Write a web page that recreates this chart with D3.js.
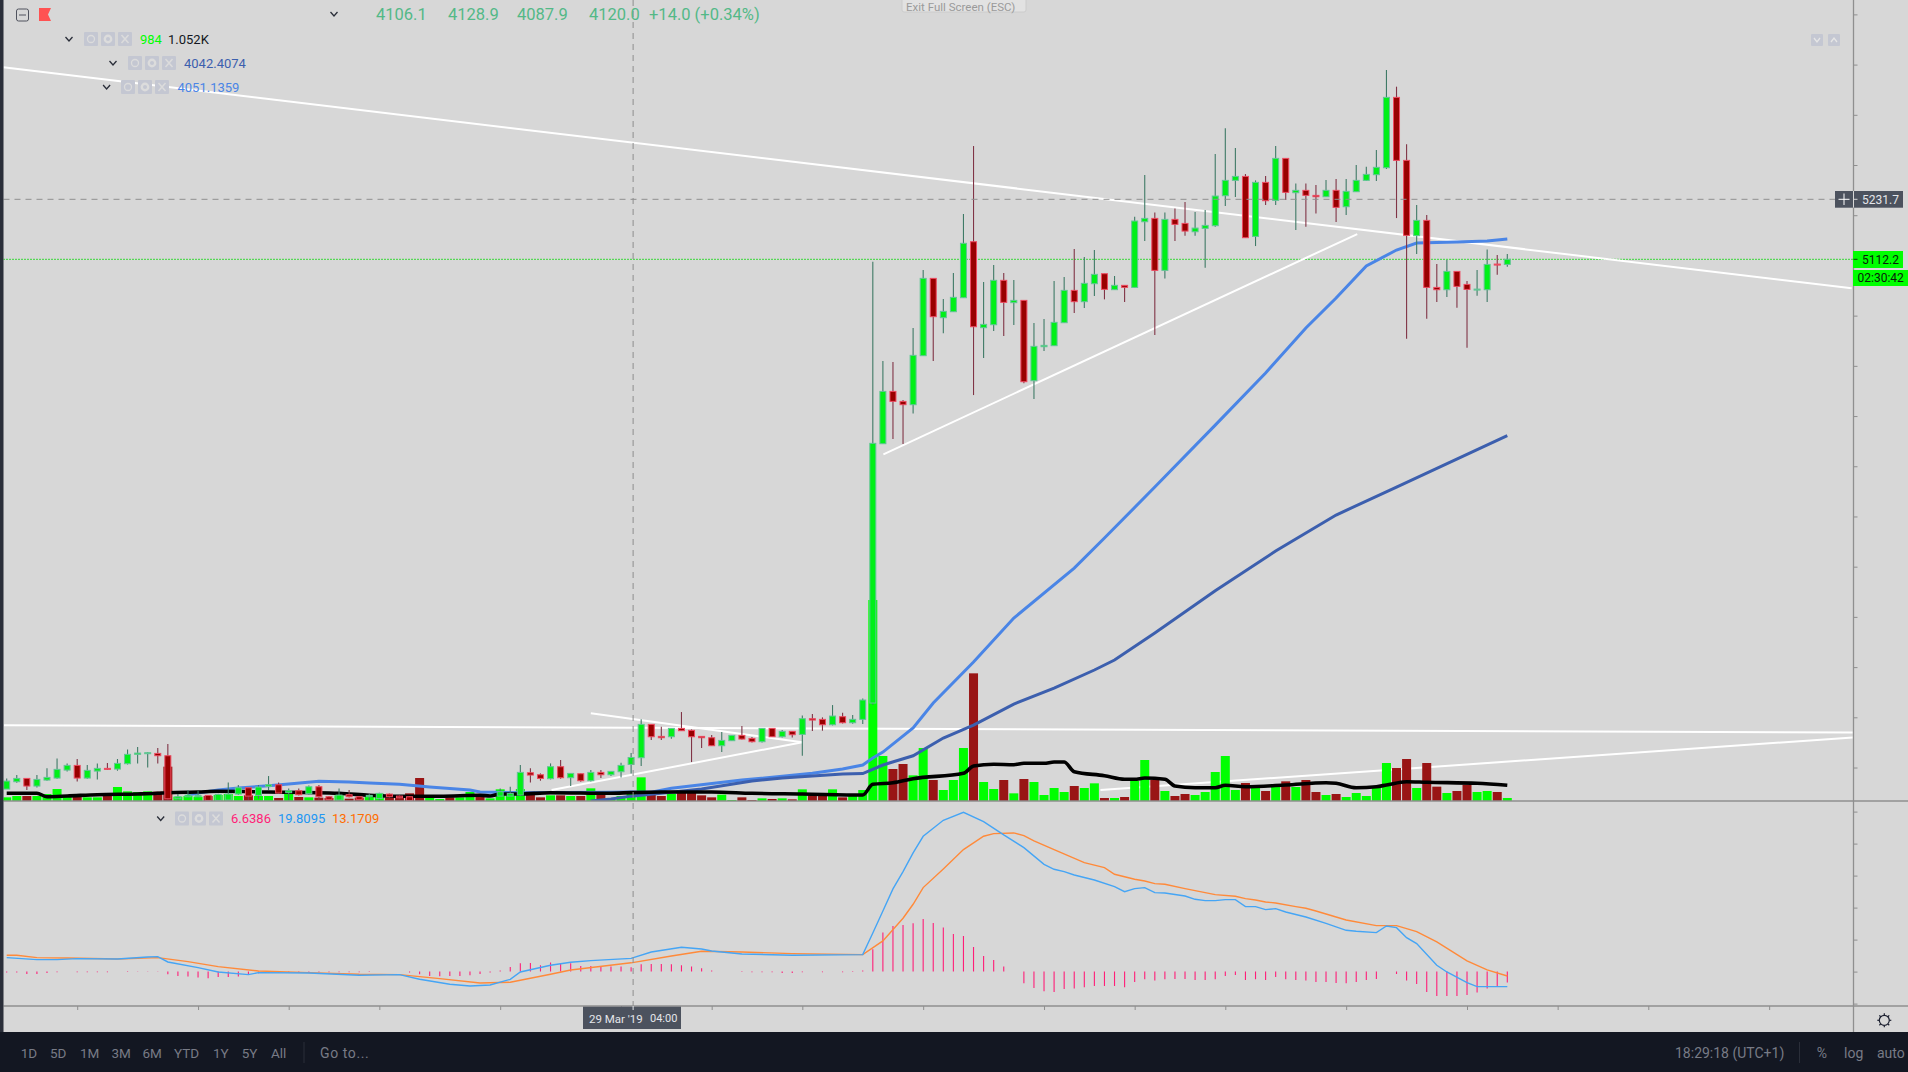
<!DOCTYPE html>
<html>
<head>
<meta charset="utf-8">
<script src="https://cdn.jsdelivr.net/npm/d3@7"></script>
<style>
  html, body { margin: 0; padding: 0; background: #d7d7d7; overflow: hidden; }
  svg { display: block; font-family: Roboto, sans-serif; }
</style>
</head>
<body>
<div id="app"></div>
<script>
// candles, one entry per bar
const opens = [
  4057.1,4071.7,4078.3,4063.1,4075.0,4079.0,4094.9,4104.2,4079.0,4092.9,
  4098.3,4096.9,4107.6,4126.2,4127.5,4128.1,4123.5,4037.8,4041.8,4041.8,
  4044.5,4034.5,4035.2,4047.1,4059.7,4044.5,4062.4,4065.7,4049.8,4053.8,
  4047.8,4061.7,4041.8,4035.2,4045.8,4041.8,4041.8,4038.5,4047.1,4043.1,
  4041.8,4031,4015,4020,4023,4019,4024,4029,4027,4043.1,
  4043.1,4045.1,4089.6,4085.6,4077.7,4101.6,4079.7,4087.6,4073.7,4090.3,
  4085.6,4091.6,4106.1,4119.5,4185.9,4162.0,4161.3,4177.9,4174.0,4162.0,
  4159.3,4143.4,4153.4,4164.0,4158.0,4151.4,4177.9,4161.3,4172.0,4166.0,
  4197.2,4195.9,4185.2,4201.2,4189.2,4195.9,4228.4,4744.9,4849.1,4829.2,
  4822.6,4920.2,5074.2,4995.9,5007.8,5035.7,5147.2,4976.0,4981.9,5070.3,
  5025.8,5030.4,4870.4,4938.1,4940.1,4985.9,5050.3,5027.8,5063.6,5083.5,
  5051.7,5060.3,5056.2,5187.0,5193.7,5090.1,5191.7,5183.7,5167.1,5173.8,
  5179.1,5238.8,5269.4,5277.3,5157.8,5265.4,5229.5,5313.2,5244.8,5249.5,
  5239.5,5236.8,5249.5,5216.9,5246.8,5269.4,5280.7,5294.6,5434.7,5309.2,
  5159.2,5189.7,5056.2,5051.6,5088.1,5062.2,5050.9,5051.6,5102.7,5102.0
];
const highs = [
  4078.3,4085.0,4078.3,4085.0,4098.3,4118.2,4108.2,4116.8,4104.9,4108.2,
  4108.9,4116.8,4136.1,4140.8,4130.8,4138.8,4146.7,4047.1,4055.1,4053.8,
  4044.5,4047.8,4070.4,4065.1,4059.7,4065.1,4083.0,4070.4,4058.4,4058.4,
  4064.4,4065.1,4043.1,4058.4,4055.1,4043.1,4047.1,4049.8,4048.5,4044.5,
  4043.1,4032,4022,4026,4028,4027,4031,4032,4032,4058.4,
  4061.7,4104.9,4098.3,4088.3,4108.2,4114.9,4088.3,4088.3,4094.9,4094.9,
  4092.3,4109.5,4128.9,4195.9,4185.9,4181.3,4177.9,4210.5,4175.9,4162.0,
  4164.7,4170.6,4164.0,4182.6,4160.7,4177.9,4177.9,4174.6,4172.0,4203.8,
  4206.5,4199.9,4224.4,4209.2,4204.5,4237.7,5107.4,4909.6,4907.6,4831.9,
  4975.3,5090.8,5074.2,5033.1,5084.9,5202.4,5337.8,5066.9,5100.8,5084.9,
  5070.9,5030.4,4985.3,4993.2,5068.9,5076.9,5132.7,5116.7,5130.7,5083.5,
  5078.9,5060.3,5197.0,5280.0,5205.6,5205.6,5213.6,5226.2,5206.3,5210.3,
  5321.8,5373.0,5333.8,5282.0,5269.4,5278.0,5337.8,5313.2,5263.4,5263.4,
  5260.1,5270.0,5272.0,5272.0,5299.9,5296.6,5329.8,5489.2,5456.0,5341.1,
  5220.2,5200.3,5102.7,5110.7,5088.1,5068.8,5090.8,5131.9,5120.6,5122.6
];
const lows = [
  4057.1,4069.7,4055.1,4060.4,4073.7,4077.7,4092.3,4072.4,4077.7,4076.3,
  4094.9,4093.6,4106.2,4108.2,4100.2,4108.2,4035.2,4033.9,4040.5,4040.5,
  4033.9,4033.2,4033.9,4045.1,4035.2,4037.8,4055.1,4048.5,4033.9,4044.5,
  4045.8,4035.2,4035.2,4033.2,4040.5,4035.2,4033.9,4033.9,4040.5,4037.8,
  4032.5,4012,4010,4016,4017,4015,4020,4024,4023,4041.8,
  4041.8,4044.5,4070.4,4073.7,4076.3,4077.7,4063.1,4071.7,4072.4,4079.0,
  4083.0,4080.3,4087.9,4102.9,4154.7,4154.7,4157.4,4173.3,4110.9,4138.8,
  4142.7,4130.8,4153.4,4156.0,4150.0,4150.0,4161.3,4160.0,4160.0,4123.5,
  4172.6,4173.3,4183.9,4187.9,4187.2,4186.6,4225.0,4744.9,4754.2,4744.2,
  4805.3,4920.2,4909.6,4964.7,5007.8,5035.7,4841.8,4915.5,4969.3,4959.4,
  4981.3,4865.1,4833.9,4929.5,4940.1,4985.9,5005.2,5015.1,5039.0,5032.4,
  5051.7,5027.1,5056.2,5148.5,4961.3,5074.2,5148.5,5159.2,5159.2,5095.4,
  5177.1,5218.2,5236.2,5155.2,5138.6,5220.2,5220.2,5230.2,5170.4,5177.1,
  5203.6,5236.8,5186.4,5200.3,5246.8,5268.0,5268.0,5292.0,5194.3,4954.0,
  5122.6,4993.8,5027.0,5037.0,5015.7,4936.0,5039.6,5027.0,5081.5,5097.4
];
const closes = [
  4073.0,4078.3,4063.1,4076.3,4080.3,4096.3,4104.2,4079.0,4094.3,4098.3,
  4096.3,4108.2,4126.2,4128.8,4129.5,4123.5,4037.8,4041.8,4045.1,4044.5,
  4034.5,4046.5,4047.1,4059.7,4043.1,4061.1,4065.7,4049.1,4053.8,4045.8,
  4061.7,4041.8,4036.5,4045.1,4041.8,4036.5,4044.5,4048.5,4041.8,4039.8,
  4033.9,4015,4020,4023,4019,4024,4029,4027,4031,4051.8,
  4048.5,4090.3,4085.0,4078.3,4101.6,4079.7,4088.3,4073.7,4090.3,4085.6,
  4092.3,4104.2,4120.0,4185.9,4161.3,4159.3,4177.9,4173.3,4161.3,4159.3,
  4143.4,4154.0,4164.0,4156.7,4151.4,4177.9,4161.3,4172.0,4165.3,4197.2,
  4194.5,4185.2,4202.5,4189.2,4195.9,4234.4,4745.6,4849.1,4829.2,4822.6,
  4920.9,5074.2,4997.9,5008.5,5036.4,5144.0,4977.9,4982.6,5070.3,5026.4,
  5030.4,4868.4,4938.8,4940.8,4986.6,5050.3,5027.8,5064.3,5082.2,5052.3,
  5060.3,5056.3,5188.4,5193.7,5090.1,5191.7,5181.7,5168.4,5174.4,5179.7,
  5238.2,5269.4,5277.3,5155.2,5265.4,5228.9,5313.2,5245.5,5249.5,5239.5,
  5236.8,5249.5,5215.6,5247.5,5269.4,5281.3,5295.3,5434.7,5309.2,5159.8,
  5189.7,5056.2,5051.6,5088.1,5058.2,5052.2,5052.9,5102.0,5100.7,5112.2
];
const volumes = [
  458,625,625,625,875,1500,750,542,458,458,
  958,1750,1208,1125,1208,1167,4292,542,625,542,
  625,750,875,625,708,625,625,375,875,500,
  458,417,375,708,292,417,500,917,458,458,
  958,2875,458,250,458,458,1125,542,333,1458,
  958,1500,1208,458,708,708,625,625,1583,875,
  208,625,984,2958,750,625,875,1375,1458,708,
  458,792,125,458,125,333,250,333,208,1458,
  708,708,1458,458,750,1375,25125,5625,4000,4625,
  3208,6625,2625,1375,2625,6625,15958,2375,1500,2625,
  958,2750,2375,750,1625,1125,1875,1625,2208,375,
  375,500,2500,5125,2625,1250,625,875,750,1125,
  3625,5625,1375,2250,1750,1250,1750,2458,1750,2625,
  1125,750,875,500,1000,625,1625,4750,4125,5250,
  1625,4750,1792,1000,1250,2000,1125,1250,1125,375
];
const histogram = [
  -1.5,-1.5,-3.5,-3.5,-2,-1,0,-1,-1,-1,
  -1,0,1,0.5,0.5,0.5,-4,-6.5,-7.5,-9,
  -10,-8,-8,-7.5,-5,-2.5,-1.5,-1.5,-1,-1,
  -1,-1,-1,-1,-1,-1,-0.5,0,0,0,
  -1.5,-4,-6.5,-7,-6.5,-6.5,-5.5,-3.5,-1.5,1.5,
  7,12.5,13,9.5,13.5,13,12.5,8.5,8.5,8.5,
  7.5,7.5,6.64,11,11.5,11.5,11,9.5,7.5,5,
  1.5,0,0,-0.5,-1,-1,-1,-2,-2,-1,
  0,-1,0,-1,-0.5,1.5,33.5,58.5,68.5,70,
  72.5,79,73,66,56.5,53.5,37,23.5,17.5,7.5,
  0,-17.5,-24.5,-29.5,-30.5,-26,-25.5,-23.5,-21.5,-21.5,
  -21.5,-23.5,-15.5,-11.5,-13.5,-11.5,-11,-11,-12.5,-12.5,
  -11.5,-6.5,-5,-12.5,-11.5,-12.5,-8,-11.5,-12.5,-13.5,
  -15.5,-15.5,-17,-17.5,-15.5,-12.5,-11,0,-3.5,-13.5,
  -18.5,-30.5,-36.5,-36.5,-36.5,-35,-31.5,-25.5,-21.5,-16.5
];

// lines read at the bars where they bend: [bar, value]
const fastMA = [[18,4045.2],[19,4049.2],[21,4055.2],[23,4059.2],[26,4063.7],[28,4067.1],[31,4072.5],[34,4071],[36,4069],[39,4066.5],[42,4061],[46,4055.2],[47,4051.2],[51,4049.8],[60,4050.6],[62,4051.1],[64,4050.6],[66,4058.5],[73,4075],[80,4088.4],[83,4097],[85,4105],[86,4118.9],[87,4130.8],[90,4178.7],[92,4228.4],[96,4310.1],[100,4397.7],[106,4497],[109,4557],[114,4658.6],[120,4782],[125,4885.7],[129,4975.3],[132,5035.1],[135,5098.8],[138,5130.7],[140,5144.6],[144,5146.6],[147,5148.6],[149,5152.6]];
const slowMA = [[58,4033.3],[60,4037.2],[62,4043],[66,4050.6],[69,4057.1],[74,4073.1],[77,4079.1],[80,4083],[83,4087],[85,4088],[87,4105],[90,4123.4],[93,4158.7],[96,4184.6],[100,4226.4],[104,4258.3],[108,4294.2],[110,4314],[114,4367.9],[120,4452],[126,4531.2],[132,4602.9],[138,4658.6],[149,4761]];
const volumeMA = [[0,962],[3,962],[4,538],[6,625],[9,788],[13,875],[15,962],[16,1038],[19,1125],[21,1212],[26,1125],[33,962],[36,712],[39,588],[43,588],[47,712],[48,625],[49,875],[51,875],[54,1038],[60,962],[62,1052],[65,1125],[70,1125],[74,962],[79,875],[85,750],[86,2088],[88,2288],[90,2788],[95,3462],[96,4375],[98,4588],[100,4538],[101,4712],[103,4712],[104,4875],[105,4875],[106,3662],[109,3162],[111,2712],[112,2712],[113,2875],[115,2712],[116,1875],[118,1662],[120,1662],[121,1962],[123,1788],[127,2000],[131,2288],[132,2212],[134,1662],[136,1788],[137,2000],[139,2412],[141,2338],[146,2212],[149,1962]];
const macdLine = [[0,20.95],[3,17.95],[5,17.95],[7,19.45],[11,18.95],[14,21.95],[15,22.45],[16,14.45],[19,5.95],[21,-0.55],[24,-4.55],[25,-1.55],[30,-2.05],[35,-5.55],[39,-4.55],[41,-11.55],[44,-19.05],[46,-21.55],[48,-20.05],[50,-11.55],[51,-0.55],[54,9.45],[56,13.95],[58,16.45],[62,19.81],[64,29.45],[67,36.45],[69,33.95],[70,30.95],[73,26.45],[78,24.45],[85,25.45],[86,58],[87,91],[88,124],[89,150],[90,178],[91,203],[93,227],[95,239],[97,225],[99,205],[101,186],[103,160.95],[104,153.45],[105,149.95],[106,144.95],[108,137.45],[110,127.45],[111,119.95],[112,124.45],[113,125.95],[114,118.45],[115,117.95],[117,113.45],[118,108.45],[119,106.45],[120,106.45],[121,107.95],[122,107.95],[123,97.45],[124,97.45],[125,92.95],[126,94.45],[127,89.45],[129,81.95],[131,72.45],[133,61.95],[134,60.45],[136,58.45],[137,68.45],[138,65.95],[139,50.95],[140,41.95],[142,9.45],[143,-0.55],[145,-16.55],[146,-22.55],[149,-22.55]];
const signalLine = [[0,24.45],[1,24.45],[3,20.95],[6,20.45],[11,18.95],[15,20.95],[18,14.95],[21,7.45],[25,0.95],[30,-1.55],[35,-4.05],[39,-4.55],[43,-10.55],[47,-17.05],[50,-16.05],[54,-4.05],[56,2.45],[62,13.17],[66,23.45],[69,30.45],[73,29.45],[78,26.95],[85,25.45],[87,46],[89,80],[90,101],[91,126],[93,154],[95,183],[97,203],[98,207],[100,208],[101,204],[102,196],[104,183],[107,163.45],[109,155.95],[110,145.95],[112,138.45],[113,135.95],[114,131.95],[115,130.95],[117,124.45],[120,115.45],[122,112.95],[123,109.45],[124,107.45],[125,104.45],[126,102.95],[128,97.45],[129,94.95],[130,90.95],[131,86.45],[133,77.45],[136,68.95],[138,68.95],[140,59.95],[142,44.45],[145,15.95],[147,2.45],[149,-6.55]];

// hand drawn trend lines: bar1, price1, bar2, price2
const trendLines = [
  [-0.34,5494.6,183.2,5054.4],
  [-0.27,4184.0,183.3,4169.7],
  [108.6,4055.2,183.3,4159.7],
  [58.0,4207.9,79.0,4150.2],
  [54.1,4055.2,79.0,4150.2],
  [87.05,4723.8,134.1,5162.5]
];

// axis ticks, the labels are the same colour as the page in the picture
const priceTicks = [5600,5500,5400,5300,5200,5100,5000,4900,4800,4700,4600,4500,4400,4300,4200,4100];
const macdTicks = [240,192,144,96,48,0,-48];
const timeTicks = [7,19,28,37,49,61,70,79,91,103,112,121,133,145,154,163,175];

const lastPrice = 5112.2;
const crosshairPrice = 5231.7;
const crosshairBar = 62.2;
const ohlcLabels = ['4106.1', '4128.9', '4087.9', '4120.0', '+14.0 (+0.34%)'];
const rangeButtons = ['1D', '5D', '1M', '3M', '6M', 'YTD', '1Y', '5Y', 'All'];

const width = 1908;
const height = 1072;
const axisX = 1853.5;
const volBottom = 801;
const macdBottom = 1006;

const svg = d3.select('#app')
  .append('svg')
  .attr('width', width)
  .attr('height', height)

svg.append('rect').attr('width', width).attr('height', height).attr('fill', '#d7d7d7')

const xScale = d3.scaleLinear().domain([0, 149]).range([6.7, 1507.3])
const yPrice = d3.scaleLinear().domain([lastPrice, crosshairPrice]).range([259.3, 199.3])
const yVolume = d3.scaleLinear().domain([0, 125]).range([volBottom, volBottom - 1])
const yMacd = d3.scaleLinear().domain([0, 48]).range([971.6, 939.6])

const defs = svg.append('defs')
defs.append('clipPath').attr('id', 'mainClip').append('rect')
  .attr('x', 3.5).attr('y', 0).attr('width', axisX - 3.5).attr('height', volBottom)
defs.append('clipPath').attr('id', 'macdClip').append('rect')
  .attr('x', 3.5).attr('y', volBottom).attr('width', axisX - 3.5).attr('height', macdBottom - volBottom)

const main = svg.append('g').attr('clip-path', 'url(#mainClip)')
const bars = d3.range(opens.length)
const isUp = i => closes[i] >= opens[i]

/* green last price line */
main.append('line')
  .attr('x1', 3).attr('x2', axisX)
  .attr('y1', yPrice(lastPrice)).attr('y2', yPrice(lastPrice))
  .attr('stroke', '#38d838').attr('stroke-width', 1).attr('stroke-dasharray', '2 1')

/* white trend lines */
main.append('g').selectAll('line')
  .data(trendLines)
  .enter()
  .append('line')
  .attr('x1', d => xScale(d[0]))
  .attr('y1', d => yPrice(d[1]))
  .attr('x2', d => xScale(d[2]))
  .attr('y2', d => yPrice(d[3]))
  .attr('stroke', '#ffffff')
  .attr('stroke-width', 2)

/* volume */
main.append('g').selectAll('rect')
  .data(bars)
  .enter()
  .append('rect')
  .attr('x', i => xScale(i) - 4.5)
  .attr('width', 9)
  .attr('y', i => yVolume(volumes[i]))
  .attr('height', i => volBottom - yVolume(volumes[i]))
  .attr('fill', i => isUp(i) ? '#00ff00' : '#991515')

const priceLine = d3.line().x(d => xScale(d[0])).y(d => yPrice(d[1]))
const volLine = d3.line().x(d => xScale(d[0])).y(d => yVolume(d[1])).curve(d3.curveMonotoneX)

main.append('path').attr('d', priceLine(fastMA)).attr('fill', 'none')
  .attr('stroke', '#4a85e6').attr('stroke-width', 3)
main.append('path').attr('d', priceLine(slowMA)).attr('fill', 'none')
  .attr('stroke', '#3c5fae').attr('stroke-width', 3)
main.append('path').attr('d', volLine(volumeMA)).attr('fill', 'none')
  .attr('stroke', '#000000').attr('stroke-width', 3.6)

/* candles */
const candles = main.append('g').selectAll('g')
  .data(bars)
  .enter()
  .append('g')

candles.append('line')
  .attr('x1', i => xScale(i)).attr('x2', i => xScale(i))
  .attr('y1', i => yPrice(highs[i]))
  .attr('y2', i => yPrice(lows[i]))
  .attr('stroke', i => isUp(i) ? '#3f7a66' : '#803446')
  .attr('stroke-width', 1.1)

candles.append('rect')
  .attr('x', i => xScale(i) - 3)
  .attr('width', 6)
  .attr('y', i => yPrice(Math.max(opens[i], closes[i])))
  .attr('height', i => Math.max(1, Math.abs(yPrice(opens[i]) - yPrice(closes[i]))))
  .attr('fill', i => isUp(i) ? '#00f018' : '#990000')
  .attr('stroke', i => isUp(i) ? '#62c596' : '#ee4a60')
  .attr('stroke-width', 1)

/* macd pane */
const macdPane = svg.append('g').attr('clip-path', 'url(#macdClip)')

macdPane.append('g').selectAll('line')
  .data(bars)
  .enter()
  .append('line')
  .attr('x1', i => xScale(i)).attr('x2', i => xScale(i))
  .attr('y1', yMacd(0))
  .attr('y2', i => yMacd(histogram[i]))
  .attr('stroke', '#ff1e78')
  .attr('stroke-width', 1.1)

const macdPath = d3.line().x(d => xScale(d[0])).y(d => yMacd(d[1]))
macdPane.append('path').attr('d', macdPath(signalLine)).attr('fill', 'none')
  .attr('stroke', '#ff8a3a').attr('stroke-width', 1.4)
macdPane.append('path').attr('d', macdPath(macdLine)).attr('fill', 'none')
  .attr('stroke', '#45a5f5').attr('stroke-width', 1.4)

/* crosshair */
const crossColor = '#8f8f8f'
svg.append('line')
  .attr('x1', xScale(crosshairBar)).attr('x2', xScale(crosshairBar))
  .attr('y1', 0).attr('y2', macdBottom)
  .attr('stroke', crossColor).attr('stroke-dasharray', '6 5')
svg.append('line')
  .attr('x1', 3.5).attr('x2', 1835)
  .attr('y1', yPrice(crosshairPrice)).attr('y2', yPrice(crosshairPrice))
  .attr('stroke', crossColor).attr('stroke-dasharray', '6 5')

/* axes, labels left out on purpose */
const axisColor = '#8f8f8f'
const styleAxis = g => {
  g.selectAll('line').attr('stroke', axisColor)
  g.select('.domain').remove()
}
svg.append('g')
  .attr('transform', `translate(${axisX}, 0)`)
  .call(d3.axisRight(yPrice).tickValues(priceTicks).tickSize(4).tickFormat(''))
  .call(styleAxis)
svg.append('g')
  .attr('transform', `translate(${axisX}, 0)`)
  .call(d3.axisRight(yMacd).tickValues(macdTicks).tickSize(4).tickFormat(''))
  .call(styleAxis)
svg.append('g')
  .attr('transform', `translate(0, ${macdBottom})`)
  .call(d3.axisBottom(xScale).tickValues(timeTicks).tickSize(4).tickFormat(''))
  .call(styleAxis)

const rule = (x1, y1, x2, y2, color, w) => svg.append('line')
  .attr('x1', x1).attr('y1', y1).attr('x2', x2).attr('y2', y2)
  .attr('stroke', color).attr('stroke-width', w)

rule(3.5, volBottom, width, volBottom, axisColor, 1.3)
rule(3.5, macdBottom, width, macdBottom, axisColor, 1.3)
rule(axisX, 0, axisX, 1032, axisColor, 1.3)

const label = (x, y, text, color, size, anchor) => svg.append('text')
  .attr('x', x).attr('y', y)
  .attr('fill', color)
  .attr('font-size', size)
  .attr('text-anchor', anchor || 'start')
  .attr('dominant-baseline', 'central')
  .text(text)

/* price tags on the right */
const tag = (x, y, w, h, color) => svg.append('rect')
  .attr('x', x).attr('y', y).attr('width', w).attr('height', h).attr('fill', color)

tag(1835, 191, 68, 16.7, '#4c525e')
rule(1853.5, 191, 1853.5, 207.7, '#d7d7d7', 1)
rule(1853.5, 199.3, 1857.5, 199.3, '#d7d7d7', 1)
rule(1844, 193.5, 1844, 205, '#ffffff', 1)
rule(1838.5, 199.3, 1849.5, 199.3, '#ffffff', 1)
label(1862, 199.6, crosshairPrice.toFixed(1), '#e4e6ea', 12)

tag(1853, 251, 50, 17, '#00ff00')
rule(1853.5, 259.3, 1857.5, 259.3, '#0a3a0a', 1)
label(1862, 259.6, lastPrice.toFixed(1), '#0a1a0a', 12)
tag(1853, 270, 55, 16, '#00ff00')
label(1857.5, 278.2, '02:30:42', '#0a1a0a', 12)

/* time tag */
tag(583, 1006.7, 98, 22.3, '#4c525e')
rule(xScale(crosshairBar), 1006, xScale(crosshairBar), 1010, '#e4e6ea', 1)
label(589, 1018.5, "29 Mar '19", '#e4e6ea', 11.5)
label(650, 1018.5, '04:00', '#e4e6ea', 11)

/* header */
const ohlcX = [376, 448, 517, 589, 649]
ohlcLabels.forEach((t, i) => label(ohlcX[i], 14.5, t, '#53b987', 16.5))

const chevron = (x, y) => svg.append('path')
  .attr('d', `M${x - 3.5},${y - 2} L${x},${y + 2} L${x + 3.5},${y - 2}`)
  .attr('fill', 'none').attr('stroke', '#2a2e39').attr('stroke-width', 1.3)

const icons = (x, y) => {
  [0, 17, 34].forEach((dx, k) => {
    svg.append('rect').attr('x', x + dx).attr('y', y - 7).attr('width', 14).attr('height', 14)
      .attr('rx', 1).attr('fill', '#c4c7d2')
    const cx = x + dx + 7
    if (k === 0) {
      svg.append('circle').attr('cx', cx).attr('cy', y).attr('r', 3.5)
        .attr('fill', 'none').attr('stroke', '#dcdcdc').attr('stroke-width', 1.3)
    } else if (k === 1) {
      svg.append('circle').attr('cx', cx).attr('cy', y).attr('r', 3.2)
        .attr('fill', 'none').attr('stroke', '#dcdcdc').attr('stroke-width', 2.4)
    } else {
      svg.append('path').attr('d', `M${cx - 3.5},${y - 4} L${cx + 3.5},${y + 4} M${cx + 3.5},${y - 4} L${cx - 3.5},${y + 4}`)
        .attr('stroke', '#dcdcdc').attr('stroke-width', 1.5)
    }
  })
}

svg.append('rect').attr('x', 16.5).attr('y', 9).attr('width', 12).attr('height', 12)
  .attr('rx', 2).attr('fill', 'none').attr('stroke', '#50535e')
rule(19, 15, 26, 15, '#50535e', 1)
svg.append('path').attr('d', 'M39,8 L51,8 L48,14.5 L51,21 L39,21 Z').attr('fill', '#ff5252')
chevron(334, 14)

chevron(69, 39)
icons(84, 39)
label(140, 39, '984', '#00ff00', 13)
label(168, 39, '1.052K', '#131722', 13)

chevron(113, 63)
icons(128, 63)
label(184, 63, '4042.4074', '#3c5fae', 13)

chevron(106.6, 87)
icons(121, 87)
label(177.5, 87, '4051.1359', '#4a85e6', 13)

chevron(160.7, 818.5)
icons(175, 818.5)
label(231, 818.5, '6.6386', '#ff1e78', 13)
label(278, 818.5, '19.8095', '#2196f3', 13)
label(332, 818.5, '13.1709', '#ff6d00', 13)

/* exit full screen hint */
svg.append('rect').attr('x', 902).attr('y', -4).attr('width', 124).attr('height', 16)
  .attr('rx', 2).attr('fill', '#e2e2e2').attr('stroke', '#cccccc')
label(906, 6.5, 'Exit Full Screen (ESC)', '#9a9a9a', 11.5)

/* small icons top right */
;[1811, 1828].forEach(x => {
  svg.append('rect').attr('x', x).attr('y', 34).attr('width', 12).attr('height', 12)
    .attr('rx', 1).attr('fill', '#c4c7d2')
  svg.append('path').attr('d', `M${x + 3},${x === 1811 ? 38 : 42} L${x + 6},${x === 1811 ? 42 : 38} L${x + 9},${x === 1811 ? 38 : 42}`)
    .attr('fill', 'none').attr('stroke', '#e6e6e6').attr('stroke-width', 1.3)
})

/* gear */
const gear = svg.append('g').attr('transform', 'translate(1884.3, 1020.3)')
gear.append('circle').attr('r', 5).attr('fill', 'none').attr('stroke', '#1c2030').attr('stroke-width', 1.2)
d3.range(8).forEach(k => {
  const a = k * Math.PI / 4
  gear.append('line')
    .attr('x1', 5 * Math.cos(a)).attr('y1', 5 * Math.sin(a))
    .attr('x2', 7 * Math.cos(a)).attr('y2', 7 * Math.sin(a))
    .attr('stroke', '#1c2030').attr('stroke-width', 1.2)
})

/* dark frame */
tag(0, 0, 3.5, height, '#2a2e39')
tag(0, 1032, width, 40, '#131722')

const buttonX = [20.7, 50, 80, 111.4, 142.4, 174, 213, 241.7, 271]
const footColor = '#787b86'
rangeButtons.forEach((t, i) => label(buttonX[i], 1052.5, t, footColor, 13.5))
rule(304, 1042, 304, 1063, '#2a2e39', 1)
label(320, 1052.5, 'Go to...', footColor, 14).attr('letter-spacing', 0.6)

label(1675, 1052.5, '18:29:18 (UTC+1)', footColor, 14)
rule(1799.5, 1042, 1799.5, 1063, '#2a2e39', 1)
label(1816.7, 1052.5, '%', footColor, 14)
label(1844, 1052.5, 'log', footColor, 14)
label(1877, 1052.5, 'auto', footColor, 14)
</script>
</body>
</html>
